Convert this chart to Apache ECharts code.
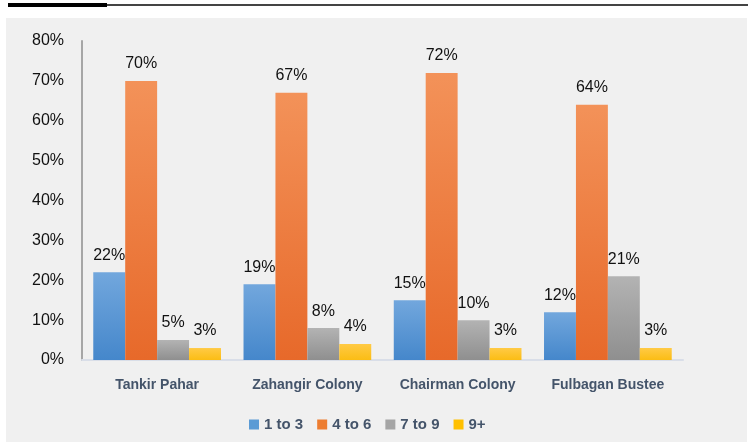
<!DOCTYPE html>
<html>
<head>
<meta charset="utf-8">
<script src="https://cdn.jsdelivr.net/npm/echarts@6/dist/echarts.min.js"></script>
<style>
  html, body { margin: 0; padding: 0; background: #fff; }
  #chart { width: 748px; height: 442px; }
</style>
</head>
<body>
<div id="chart"></div>
<script>
// data
const categories = ["Tankir Pahar", "Zahangir Colony", "Chairman Colony", "Fulbagan Bustee"];
const seriesNames = ["1 to 3", "4 to 6", "7 to 9", "9+"];
const oneToThree = [22, 19, 15, 12];
const fourToSix = [70, 67, 72, 64];
const sevenToNine = [5, 8, 10, 21];
const ninePlus = [3, 4, 3, 3];

const myChart = echarts.init(document.getElementById("chart"));

const grad = (top, bottom) =>
  new echarts.graphic.LinearGradient(0, 0, 0, 1, [
    { offset: 0, color: top },
    { offset: 1, color: bottom },
  ]);

const barColors = [
  grad("#72a7dd", "#4587cb"),
  grad("#f39259", "#e7692a"),
  grad("#b3b3b3", "#8f8f8f"),
  grad("#ffca45", "#fbbd14"),
];
const legendColors = ["#5b9bd5", "#ed7d31", "#a5a5a5", "#ffc000"];

const makeSeries = (name, data, i) => ({
  name: name,
  type: "bar",
  data: data,
  barGap: "0%",
  barCategoryGap: "15%",
  itemStyle: { color: barColors[i] },
  label: {
    show: true,
    position: "top",
    distance: 9,
    formatter: "{c}%",
    color: "#111",
    fontSize: 16,
    fontFamily: "Liberation Sans",
  },
});

const options = {
  animation: false,
  color: legendColors,
  graphic: [
    { type: "rect", shape: { x: 6, y: 18, width: 741, height: 424 }, style: { fill: "#f0f0f0" }, z: -10 },
    { type: "rect", shape: { x: 8, y: 3, width: 99, height: 4 }, style: { fill: "#000" } },
    { type: "rect", shape: { x: 107, y: 4, width: 641, height: 2 }, style: { fill: "#444" } },
  ],
  legend: {
    data: seriesNames.map((n, i) => ({ name: n, itemStyle: { color: legendColors[i] } })),
    top: 412,
    left: 244,
    itemWidth: 10,
    itemHeight: 10,
    itemGap: 14,
    icon: "rect",
    textStyle: {
      color: "#44546a",
      fontSize: 15,
      fontWeight: "bold",
      fontFamily: "Liberation Sans",
    },
  },
  grid: { left: 82, right: 65, top: 41, bottom: 82 },
  xAxis: {
    type: "category",
    data: categories,
    axisTick: { show: false },
    axisLine: { lineStyle: { color: "#d9dee8", width: 2 } },
    axisLabel: {
      interval: 0,
      margin: 18,
      color: "#44546a",
      fontSize: 14,
      fontWeight: "bold",
      fontFamily: "Liberation Sans",
    },
  },
  yAxis: {
    type: "value",
    min: 0,
    max: 80,
    interval: 10,
    splitLine: { show: false },
    axisTick: { show: false },
    axisLine: { show: true, lineStyle: { color: "#a6a6a6", width: 2 } },
    axisLabel: {
      formatter: "{value}%",
      margin: 18,
      color: "#111",
      fontSize: 16,
      fontFamily: "Liberation Sans",
    },
  },
  series: [
    makeSeries(seriesNames[0], oneToThree, 0),
    makeSeries(seriesNames[1], fourToSix, 1),
    makeSeries(seriesNames[2], sevenToNine, 2),
    makeSeries(seriesNames[3], ninePlus, 3),
  ],
};
myChart.setOption(options);
</script>
</body>
</html>
